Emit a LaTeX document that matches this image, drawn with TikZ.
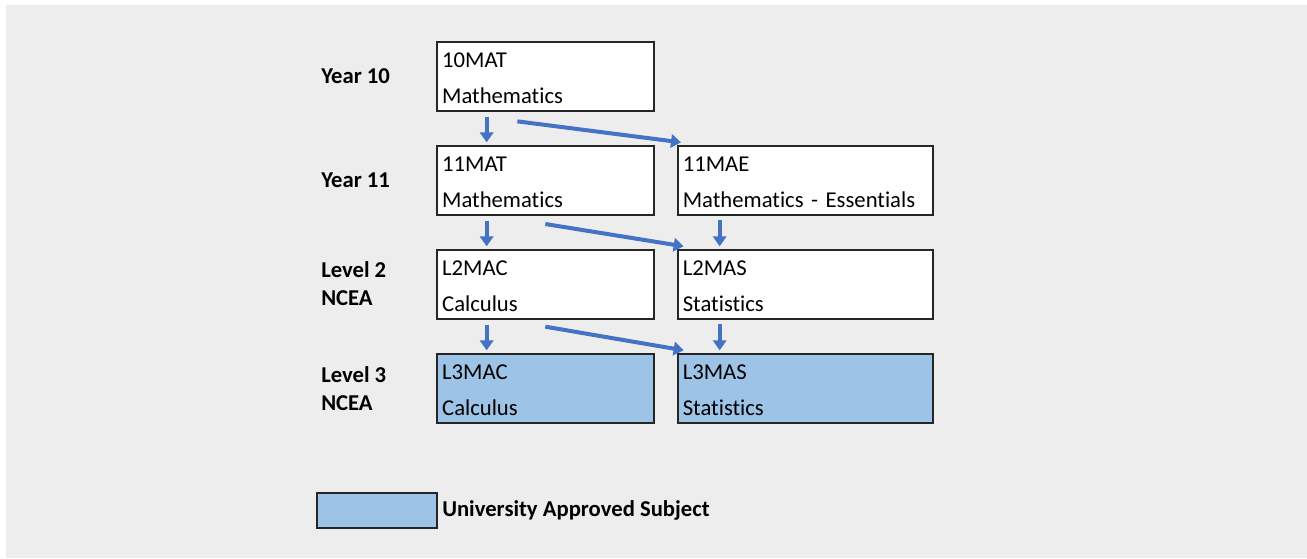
\documentclass[tikz,border=0pt]{standalone}
\usepackage{fontspec}
\setmainfont[Ligatures=NoCommon]{Carlito}
\usepackage{tikz}
\usetikzlibrary{arrows.meta}

\definecolor{bggray}{HTML}{EDEDED}
\definecolor{arrowblue}{HTML}{4472C4}
\definecolor{uablue}{HTML}{9DC3E6}

\tikzset{
	course/.style={draw=black!85, line width=1.5pt, fill=white, anchor=north west,
		minimum width=162.75pt, minimum height=51.75pt, inner xsep=3pt, inner ysep=0pt,
		text height=14pt, align=left, text width=155pt, font=\fontsize{17}{27}\selectfont},
	widecourse/.style={course, minimum width=191.25pt, text width=184pt},
	approved/.style={fill=uablue},
	level/.style={anchor=north west, align=left, inner sep=0pt, font=\fontsize{17}{21}\selectfont\bfseries},
	path/.style={draw=arrowblue, line width=3pt, -{Triangle[width=10pt,length=7.5pt]}}
}

\begin{document}
\begin{tikzpicture}[x=0.75pt, y=-0.75pt]

	\useasboundingbox (0,0) rectangle (1307,558);
	\fill[bggray] (6,5) rectangle (1307,558);

	% year labels
	\node[level] (y10) at (321,68) {Year 10};
	\node[level] (y11) at (321,173) {Year 11};
	\node[level] (l2) at (321,261) {Level 2\\NCEA};
	\node[level] (l3) at (321,366) {Level 3\\NCEA};

	% courses
	\node[course] (m10) at (436,41) {10MAT\\Mathematics};
	\node[course] (m11) at (436,145) {11MAT\\Mathematics};
	\node[widecourse] (m11e) at (677,145) {11MAE\\Mathematics - Essentials};
	\node[course] (l2mac) at (436,249) {L2MAC\\Calculus};
	\node[widecourse] (l2mas) at (677,249) {L2MAS\\Statistics};
	\node[course, approved] (l3mac) at (436,353) {L3MAC\\Calculus};
	\node[widecourse, approved] (l3mas) at (677,353) {L3MAS\\Statistics};

	% pathways
	\draw[path] ([xshift=38pt, yshift=-4pt]m10.south west) -- ([xshift=38pt, yshift=2pt]m11.north west);
	\draw[path] ([xshift=61pt, yshift=-7pt]m10.south west) -- ([xshift=3pt, yshift=2pt]m11e.north west);
	\draw[path] ([xshift=38pt, yshift=-4pt]m11.south west) -- ([xshift=38pt, yshift=2pt]l2mac.north west);
	\draw[path] ([xshift=82pt, yshift=-6pt]m11.south west) -- ([xshift=5pt, yshift=2pt]l2mas.north west);
	\draw[path] ([xshift=32pt, yshift=-3pt]m11e.south west) -- ([xshift=32pt, yshift=2pt]l2mas.north west);
	\draw[path] ([xshift=38pt, yshift=-4pt]l2mac.south west) -- ([xshift=38pt, yshift=2pt]l3mac.north west);
	\draw[path] ([xshift=82pt, yshift=-5pt]l2mac.south west) -- ([xshift=5pt, yshift=2pt]l3mas.north west);
	\draw[path] ([xshift=32pt, yshift=-3pt]l2mas.south west) -- ([xshift=32pt, yshift=2pt]l3mas.north west);

	% key
	\node[draw=black!85, line width=1.5pt, fill=uablue, minimum width=90pt, minimum height=26.25pt, anchor=north west, inner sep=0pt] (key) at (316,492) {};
	\node[anchor=west, font=\fontsize{17}{20}\selectfont\bfseries, inner sep=3pt] (keytext) at (key.east) {University Approved Subject};

\end{tikzpicture}
\end{document}
